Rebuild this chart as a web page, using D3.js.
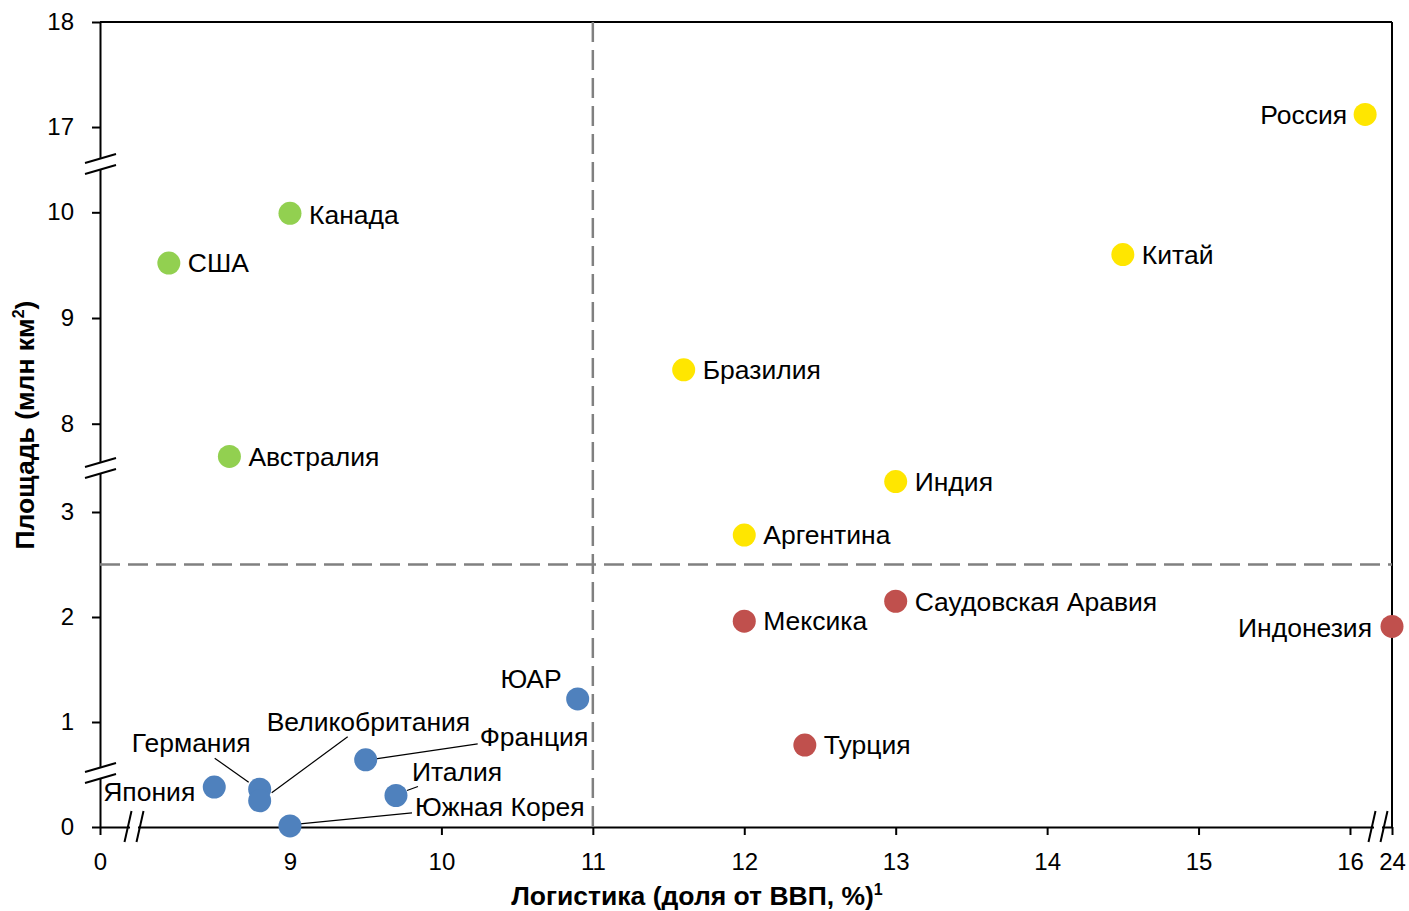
<!DOCTYPE html>
<html>
<head>
<meta charset="utf-8">
<script src="https://cdn.jsdelivr.net/npm/d3@7"></script>
<style>
  body { margin: 0; background: #fff; }
  svg text { font-family: "Liberation Sans", Arial, sans-serif; fill: #000; }
</style>
</head>
<body>
<div id="chart"></div>
<script>
// data
var countries = ["Россия","Китай","Бразилия","Индия","Аргентина",
                 "Канада","США","Австралия",
                 "Саудовская Аравия","Мексика","Индонезия","Турция",
                 "ЮАР","Франция","Япония","Германия","Великобритания","Италия","Южная Корея"];
var logistics = [16.1,14.5,11.6,13.0,12.0,
                 9.0,8.2,8.6,
                 13.0,12.0,24.0,12.4,
                 10.9,9.5,8.5,8.8,8.8,9.7,9.0];
var area = [17.12,9.6,8.51,3.29,2.78,
            9.99,9.52,7.69,
            2.15,1.96,1.91,0.78,
            1.22,0.64,0.38,0.36,0.25,0.30,0.01];
var groups = ["y","y","y","y","y",
              "g","g","g",
              "r","r","r","r",
              "b","b","b","b","b","b","b"];
var xTicks = [0,9,10,11,12,13,14,15,16,24];
var yTicks = [0,1,2,3,8,9,10,17,18];
var xSplit = 11, ySplit = 2.5;

var colors = {y:"#FFE600", g:"#92D050", r:"#C0504D", b:"#4F81BD"};

// label placement: [dx, dy, anchor, leader line?]
var labelPos = {
  "Россия":[-18,0,"end"], "Китай":[19,0,"start"], "Бразилия":[19,0,"start"],
  "Индия":[19,0,"start"], "Аргентина":[19,0,"start"], "Канада":[19,1,"start"],
  "США":[19,0,"start"], "Австралия":[19,0,"start"], "Саудовская Аравия":[19,0,"start"],
  "Мексика":[19,0,"start"], "Индонезия":[-20,1,"end"], "Турция":[19,0,"start"],
  "ЮАР":[-16,-20,"end"], "Франция":[114,-23,"start",[10,-1,112,-16]],
  "Япония":[-19,5,"end"], "Германия":[-9,-46,"end",[-11,-7,-45,-31]],
  "Великобритания":[7,-79,"start",[12,-8,88,-64]], "Италия":[16,-24,"start",[11,-5,22,-9]],
  "Южная Корея":[125,-19,"start",[10,-2,122,-13]]
};

var W = 1409, H = 911;
var svg = d3.select("#chart").append("svg").attr("width", W).attr("height", H);

var x = d3.scaleLinear()
  .domain([0, 0.224, 7.97, 16.185, 23.91, 24])
  .range([100, 134, 134, 1378, 1378, 1392]);
var y = d3.scaleLinear()
  .domain([0, 3.419, 7.581, 10.457, 16.648, 18])
  .range([827, 468, 468, 164, 164, 22]);

var x0 = 100, x1 = 1392, y0 = 827, y1 = 22;

// frame top/right
svg.append("line").attr("x1", x0).attr("x2", x1).attr("y1", y1).attr("y2", y1)
  .attr("stroke", "#000").attr("stroke-width", 2);
svg.append("line").attr("x1", x1).attr("x2", x1).attr("y1", y1).attr("y2", y0)
  .attr("stroke", "#000").attr("stroke-width", 2);

// axes
var gx = svg.append("g").attr("transform", "translate(0," + y0 + ")")
  .call(d3.axisBottom(x).tickValues(xTicks).tickSize(8).tickSizeOuter(0).tickPadding(13));
var gy = svg.append("g").attr("transform", "translate(" + x0 + ",0)")
  .call(d3.axisLeft(y).tickValues(yTicks).tickSize(8).tickSizeOuter(0).tickPadding(18));
[gx, gy].forEach(function(g) {
  g.selectAll("path, line").attr("stroke", "#000").attr("stroke-width", 2);
  g.selectAll("text").attr("font-size", 24).attr("font-family", "Liberation Sans, Arial, sans-serif").attr("fill", "#000");
});
gx.selectAll("text").attr("dy", "0.9em");

// axis breaks
function yBreak(cy) {
  svg.append("polygon")
    .attr("points", [[x0-3, cy-5], [x0+3, cy-7], [x0+3, cy+5], [x0-3, cy+7]].join(" "))
    .attr("fill", "#fff");
  [-5.5, 5.5].forEach(function(o) {
    svg.append("line").attr("x1", x0-15).attr("y1", cy+o+4.5).attr("x2", x0+16).attr("y2", cy+o-4.5)
      .attr("stroke", "#000").attr("stroke-width", 2);
  });
}
function xBreak(cx) {
  svg.append("rect").attr("x", cx-4).attr("y", y0-3).attr("width", 8).attr("height", 6).attr("fill", "#fff");
  [-6, 6].forEach(function(o) {
    svg.append("line").attr("x1", cx+o-3.5).attr("y1", y0+15).attr("x2", cx+o+3.5).attr("y2", y0-16)
      .attr("stroke", "#000").attr("stroke-width", 2);
  });
}
yBreak(y(0.515)); yBreak(468); yBreak(164);
xBreak(134); xBreak(1378);

// quadrant dividers
svg.append("line").attr("x1", x(xSplit)).attr("x2", x(xSplit)).attr("y1", y1).attr("y2", y0)
  .attr("stroke", "#808080").attr("stroke-width", 2.5).attr("stroke-dasharray", "20,8");
svg.append("line").attr("x1", x0).attr("x2", x1).attr("y1", y(ySplit)).attr("y2", y(ySplit))
  .attr("stroke", "#808080").attr("stroke-width", 2.5).attr("stroke-dasharray", "20,8");

var pts = countries.map(function(c, i) {
  return {name: c, lx: logistics[i], ar: area[i], grp: groups[i]};
});

// leader lines
svg.append("g").selectAll("line")
  .data(pts.filter(function(d) { return labelPos[d.name][3]; }))
  .enter().append("line")
  .attr("x1", function(d) { return x(d.lx) + labelPos[d.name][3][0]; })
  .attr("y1", function(d) { return y(d.ar) + labelPos[d.name][3][1]; })
  .attr("x2", function(d) { return x(d.lx) + labelPos[d.name][3][2]; })
  .attr("y2", function(d) { return y(d.ar) + labelPos[d.name][3][3]; })
  .attr("stroke", "#000").attr("stroke-width", 1.2);

// points
svg.append("g").selectAll("circle").data(pts).enter().append("circle")
  .attr("cx", function(d) { return x(d.lx); })
  .attr("cy", function(d) { return y(d.ar); })
  .attr("r", 11.5)
  .attr("fill", function(d) { return colors[d.grp]; });

// labels
svg.append("g").selectAll("text").data(pts).enter().append("text")
  .attr("x", function(d) { return x(d.lx) + labelPos[d.name][0]; })
  .attr("y", function(d) { return y(d.ar) + labelPos[d.name][1]; })
  .attr("dy", "0.35em")
  .attr("text-anchor", function(d) { return labelPos[d.name][2]; })
  .attr("font-size", 26.5)
  .text(function(d) { return d.name; });

// axis titles
var xt = svg.append("text").attr("x", 697).attr("y", 905).attr("text-anchor", "middle")
  .attr("font-size", 26.5).attr("font-weight", "bold");
xt.append("tspan").text("Логистика (доля от ВВП, %)");
xt.append("tspan").attr("font-size", 16).attr("dy", -10).text("1");

var yt = svg.append("text").attr("transform", "translate(34,425) rotate(-90)")
  .attr("text-anchor", "middle").attr("font-size", 26.5).attr("font-weight", "bold");
yt.append("tspan").text("Площадь (млн км");
yt.append("tspan").attr("font-size", 16).attr("dy", -10).text("2");
yt.append("tspan").attr("dy", 10).text(")");
</script>
</body>
</html>
